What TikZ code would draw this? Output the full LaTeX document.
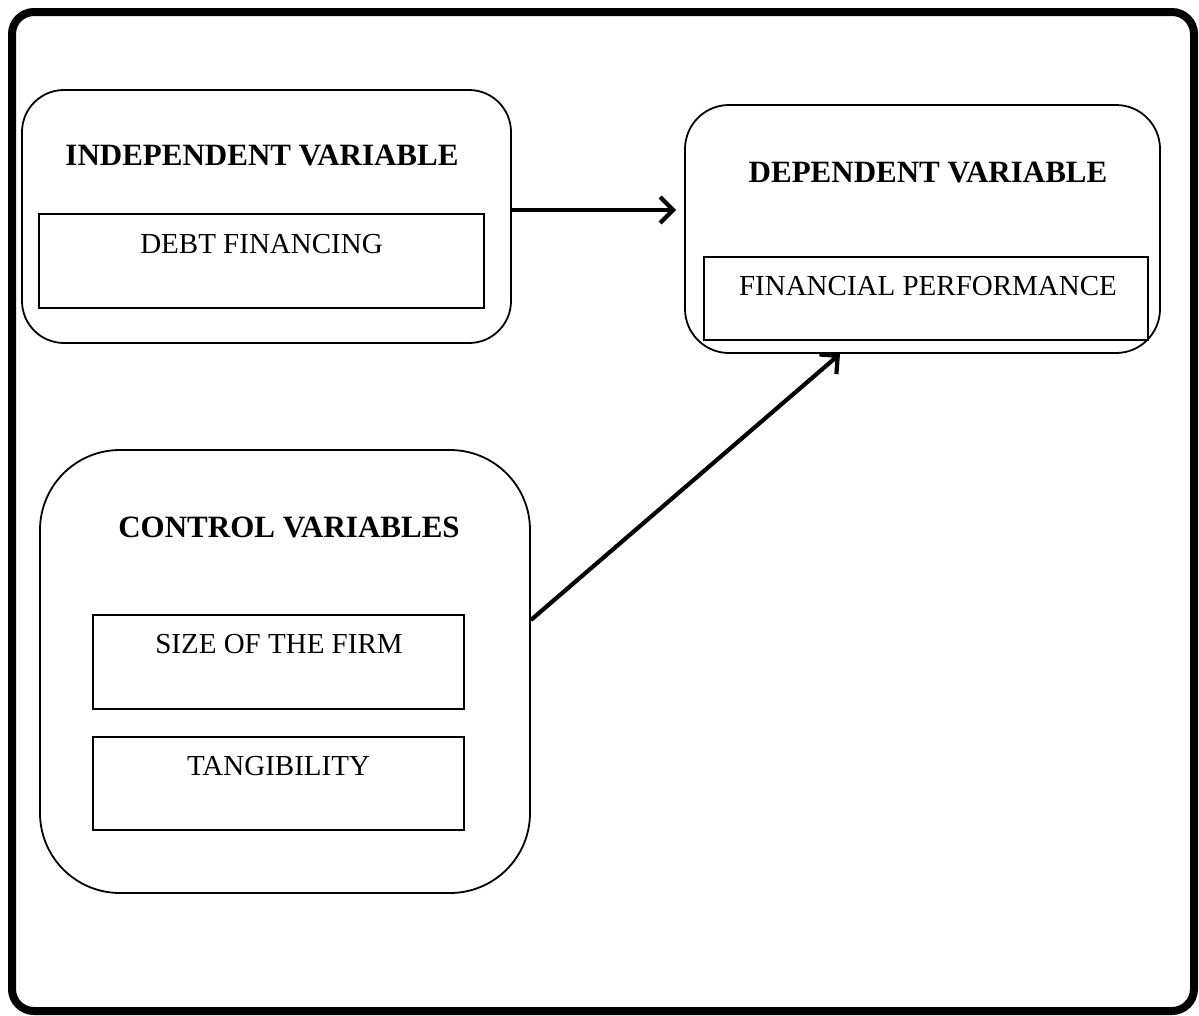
\documentclass[tikz,border=0pt]{standalone}
\usepackage{fontspec}
\setmainfont{Liberation Serif}
\usetikzlibrary{arrows.meta,calc}

\tikzset{
  groupbox/.style={draw, line width=1.8pt, inner sep=0pt},
  itembox/.style={draw, line width=1.8pt, rectangle, inner sep=0pt},
  heading/.style={anchor=base, inner sep=0pt, font=\fontsize{31}{36}\selectfont\bfseries},
  itemtext/.style={anchor=base, inner sep=0pt, font=\fontsize{29}{34}\selectfont},
  link/.style={line width=4.2pt, -{Straight Barb[length=13pt,width=26pt,line width=4.2pt]}}
}

\begin{document}
\begin{tikzpicture}[x=1pt,y=-1pt]
  \useasboundingbox (0,0) rectangle (1199,1015);

  % outer frame
  \draw[line width=8pt, rounded corners=22pt] (12,12) rectangle (1194,1011);

  % independent variable group
  \node[groupbox, rounded corners=42pt, minimum width=489pt, minimum height=253pt] (indep) at (266.5,216.5) {};
  \node[heading] (indeptitle) at (262,165) {INDEPENDENT VARIABLE};
  \node[itembox, minimum width=445pt, minimum height=94pt] (debtbox) at (261.5,261) {};
  \node[itemtext] (debt) at (261.5,253) {DEBT FINANCING};

  % dependent variable group
  \node[groupbox, rounded corners=44pt, minimum width=475pt, minimum height=248pt] (dep) at (922.5,229) {};
  \node[heading] (deptitle) at (928,182) {DEPENDENT VARIABLE};
  \node[itembox, minimum width=444pt, minimum height=83pt] (perfbox) at (926,298.5) {};
  \node[itemtext] (perf) at (928,295) {FINANCIAL PERFORMANCE};

  % control variables group
  \node[groupbox, rounded corners=80pt, minimum width=490pt, minimum height=443pt] (ctrl) at (285,671.5) {};
  \node[heading] (ctrltitle) at (289,537) {CONTROL VARIABLES};
  \node[itembox, minimum width=371pt, minimum height=94pt] (sizebox) at (278.5,662) {};
  \node[itemtext] (size) at (279,653) {SIZE OF THE FIRM};
  \node[itembox, minimum width=371pt, minimum height=93pt] (tangbox) at (278.5,783.5) {};
  \node[itemtext] (tang) at (278.5,775) {TANGIBILITY};

  % relationships
  \draw[link, shorten >=8pt] ([yshift=6.5pt]indep.east) -- ([yshift=6.5pt]indep.east -| dep.west);
  \draw[link] ([yshift=51.5pt]ctrl.east) -- ([xshift=-82.5pt]dep.south);
\end{tikzpicture}
\end{document}
